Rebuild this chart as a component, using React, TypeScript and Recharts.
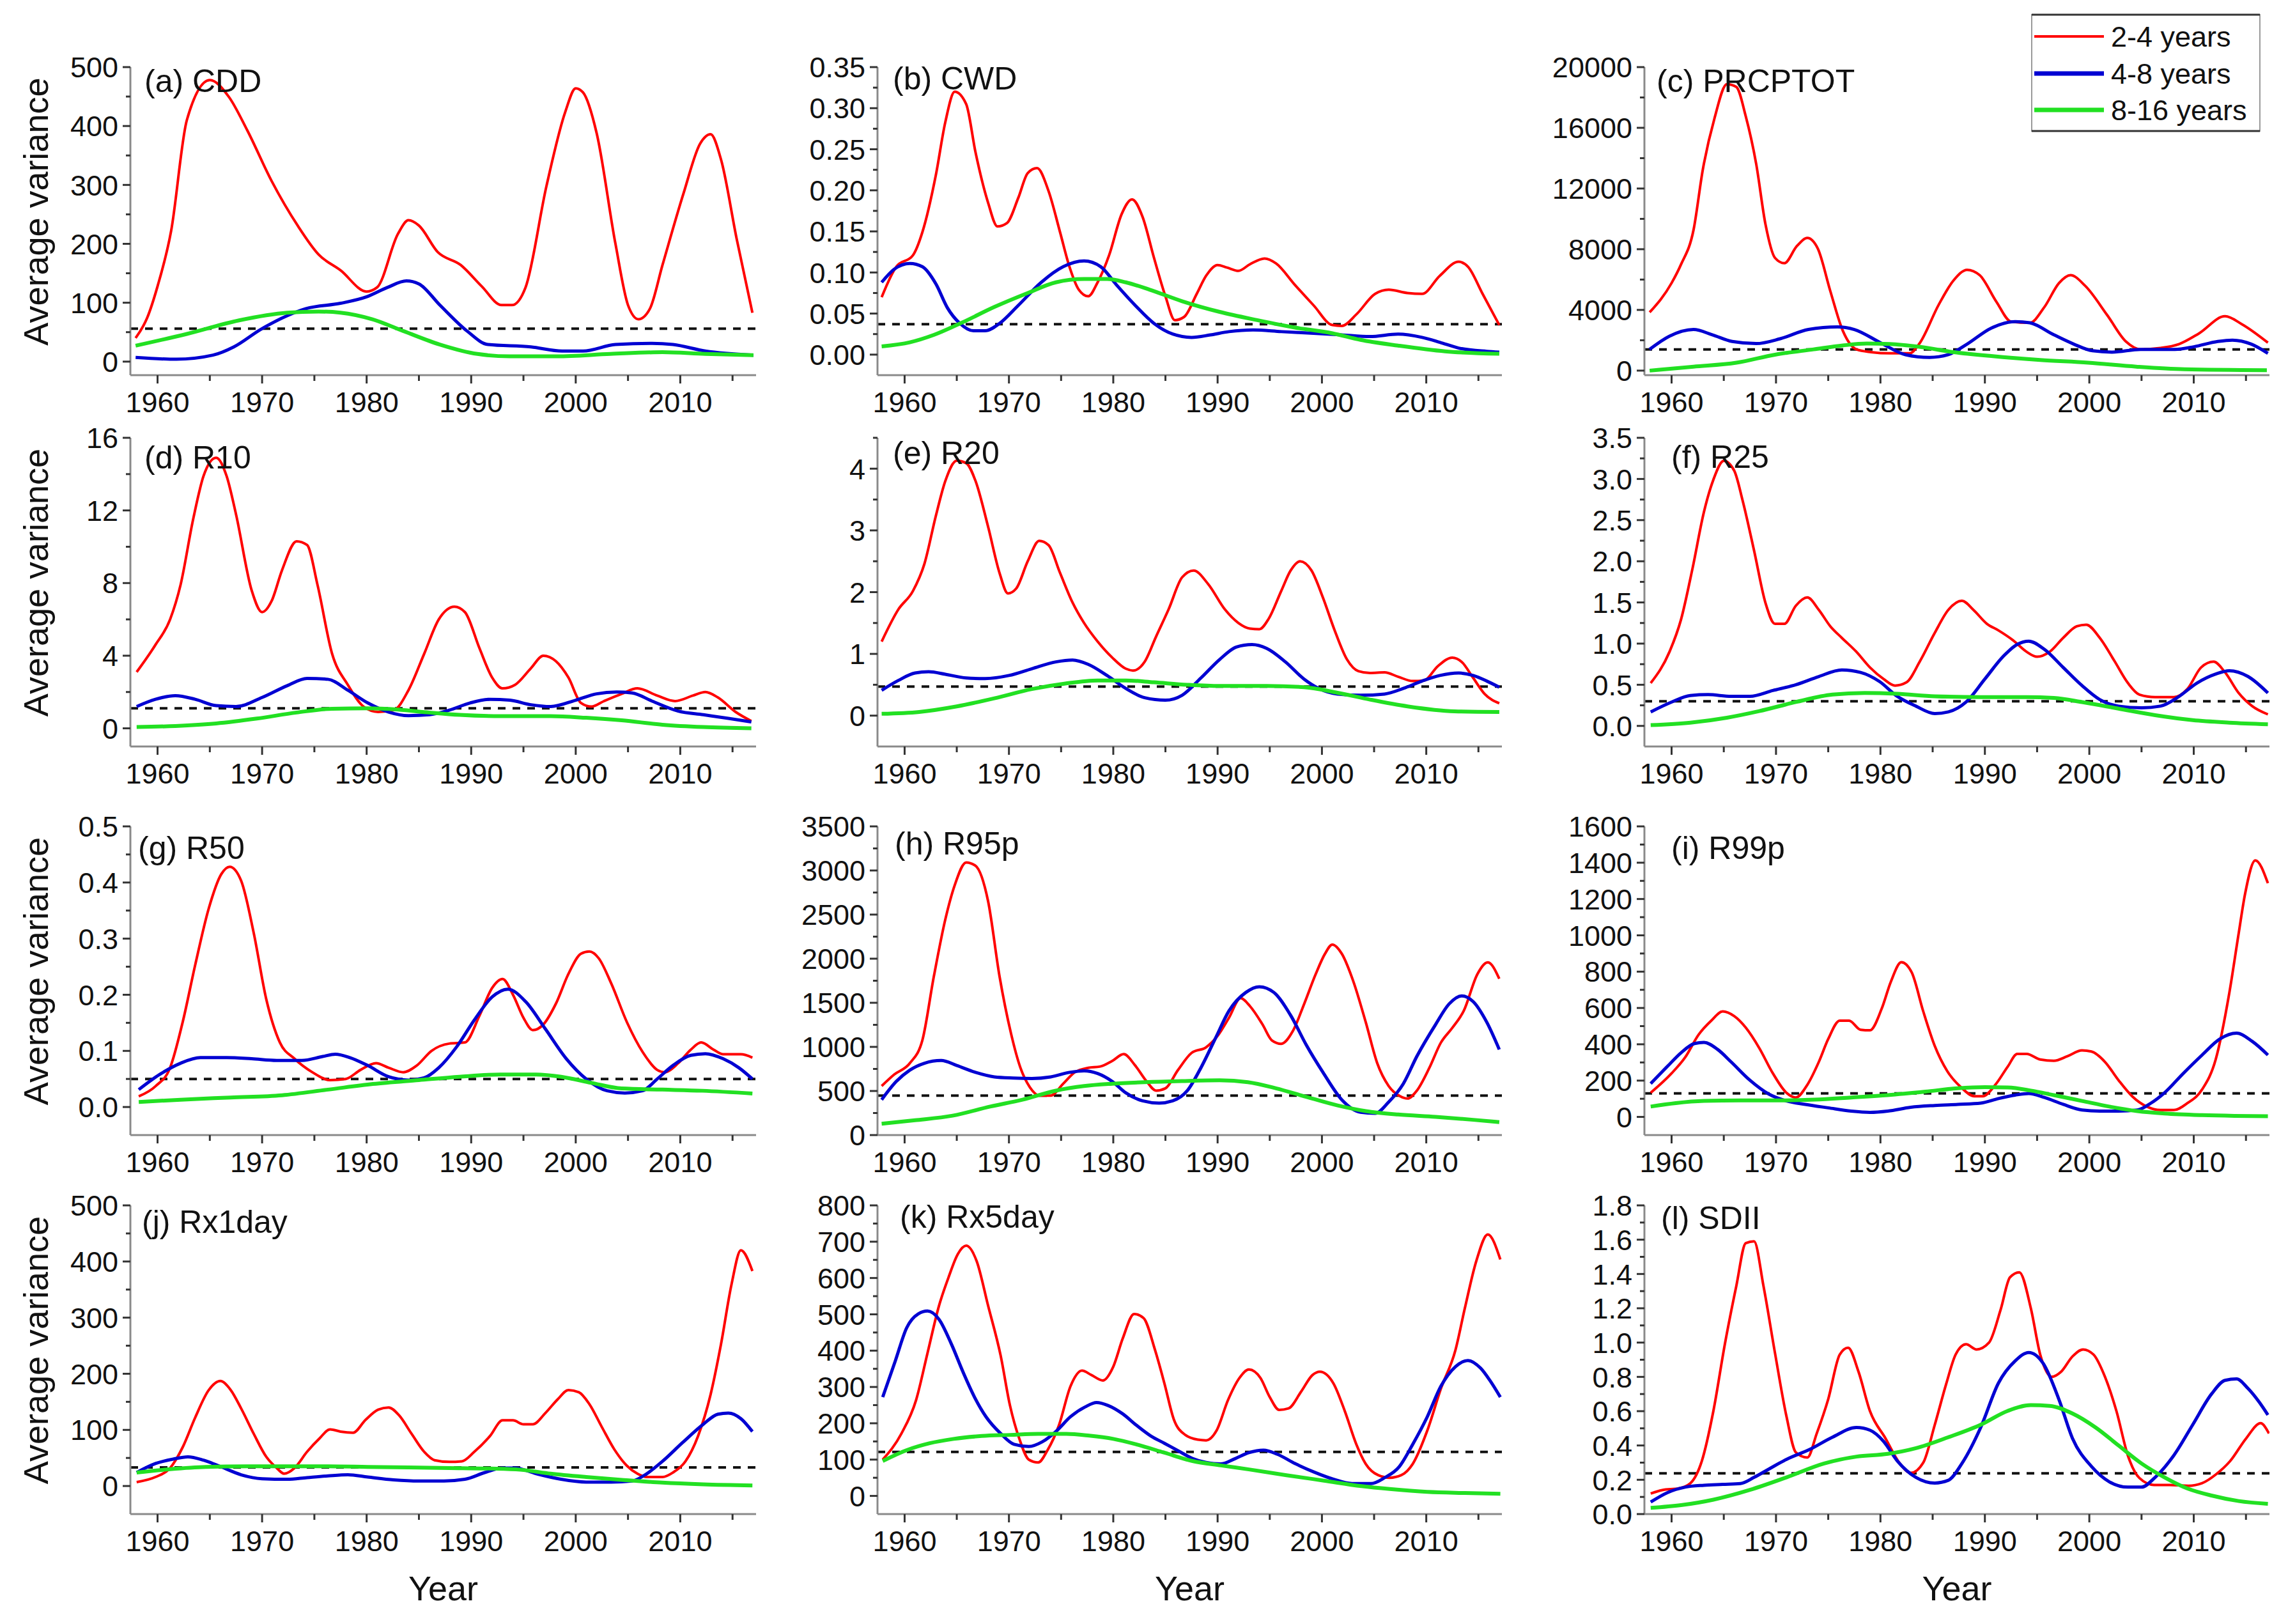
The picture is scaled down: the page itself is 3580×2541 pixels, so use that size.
import React from 'react';
import { LineChart, Line, XAxis, YAxis, ReferenceLine } from 'recharts';

type Pt = [number, number];

// (a) CDD
const cddRed: Pt[] = [[1957.9,40],[1959,74],[1960,128],[1961.3,222],[1962.8,410],[1965,478],[1966.8,450],[1968.6,392],[1970.9,307],[1973.4,231],[1975.4,182],[1977.5,155],[1980,119],[1981,126],[1983,217],[1984,240],[1985,231],[1986.8,186],[1989,164],[1991,128],[1992.9,96],[1993.9,96],[1995.2,126],[1997.2,298],[1999,424],[2000,464],[2000.7,457],[2002,388],[2003.8,200],[2005,96],[2006,72],[2007.1,90],[2008.3,164],[2010.3,285],[2011.9,370],[2012.9,386],[2013.9,343],[2015.4,208],[2016.9,83]];
const cddBlue: Pt[] = [[1957.9,7],[1961.8,4],[1965.3,11],[1967.3,25],[1969.9,55],[1972.4,78],[1974.2,90],[1977.5,99],[1980,110],[1982,126],[1983.8,137],[1985,132],[1987,96],[1989.6,52],[1991.6,29],[1995.7,25],[1998.7,18],[2000.7,18],[2003.8,29],[2007.3,31],[2009.3,29],[2012.4,18],[2017,11]];
const cddGreen: Pt[] = [[1957.9,27],[1962.8,47],[1967.8,70],[1972.4,83],[1975.4,85],[1977.5,83],[1980.5,72],[1983.5,52],[1987,29],[1990.6,13],[1993.7,9],[1998.2,9],[2003.3,13],[2008.3,16],[2012.4,13],[2017,11]];

// (b) CWD
const cwdRed: Pt[] = [[1957.8,0.07],[1959.2,0.107],[1960.8,0.121],[1961.7,0.149],[1963,0.219],[1963.9,0.283],[1964.8,0.32],[1965.9,0.305],[1966.8,0.246],[1968,0.185],[1968.9,0.156],[1969.8,0.16],[1970.9,0.191],[1971.8,0.221],[1972.7,0.227],[1973.8,0.199],[1974.9,0.149],[1975.8,0.107],[1976.7,0.079],[1977.6,0.071],[1978.5,0.088],[1979.6,0.121],[1980.8,0.171],[1981.8,0.189],[1982.8,0.168],[1983.9,0.118],[1985,0.071],[1985.9,0.042],[1986.8,0.046],[1988,0.074],[1988.9,0.096],[1990,0.109],[1990.9,0.106],[1992,0.102],[1993.1,0.11],[1994.5,0.117],[1995.6,0.111],[1997.4,0.085],[1999.2,0.06],[2001,0.036],[2001.9,0.035],[2003.3,0.049],[2005.1,0.074],[2006.4,0.079],[2008.2,0.075],[2009.6,0.074],[2011.3,0.096],[2013.1,0.113],[2014,0.107],[2015.4,0.074],[2017,0.036]];
const cwdBlue: Pt[] = [[1957.8,0.088],[1959,0.104],[1960.5,0.111],[1961.7,0.107],[1963,0.086],[1964.1,0.057],[1965.3,0.038],[1966.6,0.029],[1967.7,0.029],[1969.1,0.038],[1970.9,0.06],[1973.1,0.088],[1975.2,0.107],[1977.2,0.114],[1978.8,0.107],[1980.3,0.085],[1982.1,0.06],[1983.9,0.038],[1985.7,0.025],[1987.5,0.021],[1989.3,0.024],[1991.1,0.028],[1993.4,0.03],[1996.1,0.028],[1999.2,0.026],[2001.9,0.024],[2004.6,0.022],[2007.3,0.025],[2009.6,0.021],[2011.3,0.015],[2013.1,0.008],[2015.8,0.004],[2017,0.003]];
const cwdGreen: Pt[] = [[1957.8,0.01],[1960.5,0.015],[1962.8,0.024],[1965.5,0.039],[1968.6,0.058],[1971.8,0.075],[1974.5,0.088],[1977.2,0.092],[1979.4,0.092],[1981.2,0.088],[1983.5,0.079],[1986.6,0.065],[1990.2,0.052],[1993.8,0.042],[1997.4,0.033],[2001,0.026],[2003.7,0.018],[2007.3,0.011],[2011.8,0.004],[2017,0.001]];

// (c) PRCPTOT
const prcRed: Pt[] = [[1957.9,3840],[1960,5770],[1960.9,6990],[1962.1,9260],[1963,13280],[1964.1,16600],[1965.3,18870],[1966.2,18690],[1967.1,16770],[1968.1,13630],[1969,9610],[1969.9,7430],[1970.8,7080],[1972,8210],[1973,8740],[1974,8040],[1975.2,5240],[1976.4,2620],[1977.7,1400],[1979.1,1220],[1980.9,1140],[1982.8,1140],[1983.7,1750],[1985.6,4370],[1987,5940],[1988.3,6640],[1989.5,6290],[1991.1,4540],[1992.5,3230],[1994.3,3150],[1995.7,4190],[1997.1,5770],[1998.2,6290],[1999.6,5590],[2001.7,3670],[2003.5,1920],[2004.9,1400],[2006.8,1490],[2008.6,1750],[2010.5,2450],[2013,3580],[2014.6,3060],[2017.1,1840]];
const prcBlue: Pt[] = [[1957.9,1400],[1959.8,2270],[1962.1,2710],[1963.9,2360],[1965.8,1920],[1968.1,1780],[1970.4,2100],[1973.1,2710],[1975.9,2880],[1977.5,2710],[1980,1840],[1982.4,1050],[1984.7,870],[1986.5,1050],[1988.3,1750],[1990.6,2800],[1992.9,3230],[1994.3,3150],[1996.6,2360],[1998.5,1750],[2000.3,1310],[2002.2,1220],[2004.9,1400],[2008.2,1400],[2010,1570],[2012.3,1920],[2013.7,2010],[2015.5,1750],[2017.1,1140]];
const prcGreen: Pt[] = [[1957.9,0],[1962.1,260],[1966.2,520],[1969.9,1050],[1973.6,1400],[1976.4,1660],[1978.7,1780],[1980.9,1750],[1983.7,1570],[1987,1220],[1990.6,960],[1995.3,700],[1999.9,520],[2004.5,260],[2009.1,90],[2017,30]];

// (d) R10
const r10Red: Pt[] = [[1958,3.1],[1959.8,4.6],[1961.2,6],[1962.2,7.9],[1963.4,11.5],[1964.4,13.9],[1965.6,14.9],[1966.6,13.9],[1967.5,11.8],[1969,7.6],[1970,6.4],[1970.9,7],[1971.9,8.7],[1973.3,10.3],[1974.3,10.1],[1975.3,7.9],[1976.7,4.1],[1978.2,2.4],[1979.7,1.2],[1981.1,0.9],[1982.6,1],[1984,2.1],[1985.5,4.1],[1986.9,6],[1988.4,6.7],[1989.4,6.4],[1990.8,4.4],[1992,2.8],[1993,2.2],[1994.2,2.4],[1995.7,3.3],[1996.9,4],[1998.1,3.7],[1999.3,2.8],[2000.5,1.4],[2001.5,1.2],[2002.7,1.5],[2004.4,1.9],[2005.9,2.2],[2007.8,1.8],[2009.5,1.5],[2011.2,1.8],[2012.4,2],[2013.6,1.7],[2015.3,0.9],[2016.8,0.4]];
const r10Blue: Pt[] = [[1958,1.2],[1959.8,1.6],[1961.7,1.8],[1963.6,1.6],[1965.6,1.25],[1967.5,1.2],[1970,1.7],[1972.4,2.35],[1974.3,2.75],[1976.3,2.7],[1978.2,2.1],[1980.1,1.4],[1982.1,0.9],[1984,0.7],[1986,0.75],[1987.9,1],[1989.9,1.4],[1991.8,1.6],[1993.7,1.55],[1995.7,1.3],[1997.6,1.2],[2000,1.55],[2002,1.9],[2003.9,2],[2005.4,1.95],[2007.3,1.5],[2009.8,0.95],[2012.2,0.75],[2014.6,0.55],[2016.8,0.35]];
const r10Green: Pt[] = [[1958,0.07],[1961.7,0.13],[1965.6,0.27],[1969.5,0.54],[1973.3,0.87],[1976.7,1.08],[1980.1,1.1],[1983,1.03],[1986,0.87],[1988.9,0.74],[1992.8,0.67],[1997.6,0.67],[2001,0.58],[2004.4,0.44],[2008.3,0.2],[2012.2,0.07],[2016.8,0]];

// (e) R20
const r20Red: Pt[] = [[1957.8,1.2],[1959.4,1.72],[1960.8,2.02],[1961.9,2.46],[1963,3.24],[1963.9,3.8],[1965,4.13],[1965.9,4.09],[1966.8,3.8],[1968,3.06],[1969.1,2.31],[1969.9,1.98],[1970.7,2.06],[1971.8,2.5],[1972.9,2.83],[1973.8,2.76],[1974.9,2.31],[1976.1,1.83],[1977.2,1.5],[1978.5,1.2],[1979.9,0.94],[1981.2,0.76],[1981.9,0.73],[1983,0.87],[1984.1,1.28],[1985.3,1.72],[1986.6,2.24],[1987.7,2.35],[1989.1,2.13],[1990.7,1.72],[1992,1.5],[1993.1,1.41],[1994,1.4],[1994.9,1.57],[1996.1,2.02],[1997,2.35],[1997.9,2.5],[1999,2.35],[2000.1,1.91],[2001.2,1.39],[2002.4,0.91],[2003.5,0.72],[2004.6,0.69],[2006,0.7],[2007.3,0.63],[2008.7,0.56],[2009.8,0.57],[2011.1,0.8],[2012.5,0.94],[2013.4,0.87],[2014.5,0.61],[2015.6,0.35],[2017,0.2]];
const r20Blue: Pt[] = [[1957.8,0.41],[1959.4,0.57],[1961,0.69],[1962.3,0.71],[1963.9,0.67],[1965.9,0.61],[1967.7,0.6],[1970,0.65],[1972.2,0.76],[1974.5,0.87],[1976.1,0.9],[1977.6,0.83],[1979.4,0.65],[1981.2,0.44],[1983,0.29],[1985,0.25],[1986.6,0.33],[1988.4,0.61],[1990.2,0.91],[1991.8,1.11],[1993.3,1.15],[1994.7,1.09],[1996.5,0.87],[1998.3,0.59],[1999.7,0.44],[2001.5,0.35],[2003.7,0.33],[2006,0.35],[2007.8,0.44],[2009.6,0.56],[2011.3,0.65],[2013.1,0.69],[2014.5,0.65],[2015.8,0.56],[2017,0.46]];
const r20Green: Pt[] = [[1957.8,0.03],[1961.4,0.06],[1965,0.15],[1968.6,0.28],[1972.2,0.43],[1975.4,0.52],[1978.5,0.57],[1981.2,0.57],[1983.9,0.54],[1987.1,0.5],[1990.2,0.48],[1994.7,0.48],[1998.3,0.46],[2001.5,0.37],[2004.6,0.26],[2008.2,0.15],[2012.7,0.07],[2017,0.06]];

// (f) R25
const r25Red: Pt[] = [[1958,0.52],[1959.8,0.9],[1960.9,1.29],[1962,1.91],[1963.1,2.6],[1964,2.99],[1965,3.22],[1966,3.1],[1966.8,2.74],[1967.9,2.13],[1969,1.49],[1969.9,1.24],[1970.8,1.24],[1971.9,1.46],[1973,1.56],[1974.1,1.41],[1975.2,1.21],[1976.3,1.07],[1977.7,0.9],[1979,0.71],[1980.3,0.57],[1981.4,0.49],[1982.5,0.53],[1983.8,0.79],[1985.2,1.13],[1986.5,1.41],[1987.8,1.52],[1988.9,1.41],[1990.2,1.24],[1991.3,1.16],[1992.7,1.04],[1994,0.9],[1995,0.84],[1996.2,0.9],[1997.5,1.07],[1998.8,1.21],[1999.7,1.23],[2001,1.07],[2002.4,0.79],[2003.7,0.52],[2004.8,0.38],[2006.3,0.35],[2008.1,0.35],[2009.4,0.45],[2010.7,0.71],[2011.9,0.78],[2013,0.65],[2014.3,0.4],[2015.6,0.24],[2017.1,0.14]];
const r25Blue: Pt[] = [[1958,0.17],[1960,0.29],[1961.8,0.37],[1963.5,0.38],[1965.7,0.36],[1967.5,0.36],[1969.7,0.43],[1971.9,0.5],[1974.1,0.6],[1976.3,0.68],[1978.1,0.65],[1979.9,0.54],[1981.6,0.36],[1983.4,0.24],[1985.2,0.15],[1986.5,0.17],[1988.2,0.29],[1990,0.57],[1991.8,0.85],[1993.1,0.99],[1994.2,1.03],[1995.7,0.93],[1997.5,0.71],[1999.3,0.49],[2001,0.32],[2002.8,0.24],[2005,0.22],[2006.8,0.24],[2008.5,0.35],[2010.3,0.52],[2012.1,0.63],[2013.4,0.67],[2015.2,0.6],[2017.1,0.4]];
const r25Green: Pt[] = [[1958,0.01],[1961.8,0.04],[1965.3,0.1],[1968.4,0.18],[1971.9,0.29],[1975.4,0.38],[1978.5,0.4],[1981.6,0.39],[1985.2,0.36],[1989.6,0.35],[1994,0.35],[1996.6,0.34],[1999.3,0.29],[2002.8,0.21],[2006.3,0.13],[2009.9,0.07],[2013.4,0.04],[2017.1,0.02]];

// (g) R50
const r50Red: Pt[] = [[1958.2,0.019],[1959.8,0.037],[1961.2,0.07],[1962.4,0.151],[1963.6,0.253],[1964.9,0.354],[1966.1,0.415],[1966.9,0.428],[1968,0.403],[1969.2,0.31],[1970.4,0.192],[1971.7,0.115],[1973.1,0.086],[1974.8,0.062],[1976.5,0.048],[1978,0.05],[1979.4,0.066],[1980.9,0.078],[1982.1,0.07],[1983.5,0.062],[1984.8,0.074],[1986.2,0.1],[1987.9,0.113],[1989.4,0.115],[1990.8,0.163],[1992,0.212],[1993,0.228],[1994,0.2],[1995,0.159],[1995.9,0.137],[1996.9,0.147],[1998.1,0.184],[1999.3,0.237],[2000.5,0.273],[2001.3,0.277],[2002.2,0.265],[2003.4,0.22],[2004.9,0.151],[2006.4,0.098],[2007.8,0.066],[2008.5,0.062],[2009.8,0.078],[2011,0.102],[2012,0.115],[2013.2,0.102],[2014.1,0.094],[2015.8,0.094],[2016.9,0.088]];
const r50Blue: Pt[] = [[1958.2,0.031],[1960.2,0.058],[1962.2,0.078],[1964.1,0.088],[1966.6,0.088],[1969,0.086],[1971.4,0.083],[1973.8,0.083],[1975.8,0.09],[1977,0.094],[1978.4,0.088],[1980.1,0.074],[1982.1,0.054],[1984,0.048],[1985.5,0.052],[1986.9,0.07],[1988.6,0.107],[1990.3,0.155],[1992,0.196],[1993.5,0.21],[1995.2,0.188],[1997.1,0.139],[1999.1,0.086],[2001,0.05],[2003,0.029],[2004.7,0.025],[2006.4,0.029],[2007.8,0.05],[2009.3,0.074],[2011,0.092],[2012.4,0.095],[2014.1,0.086],[2015.6,0.07],[2016.9,0.05]];
const r50Green: Pt[] = [[1958.2,0.009],[1962.2,0.013],[1967,0.017],[1971.9,0.021],[1976.3,0.031],[1980.6,0.041],[1985,0.048],[1988.9,0.054],[1992.8,0.058],[1996.2,0.058],[1998.6,0.054],[2001.5,0.043],[2004.4,0.033],[2008.3,0.031],[2012.1,0.029],[2016.9,0.024]];

// (h) R95p
const r95Red: Pt[] = [[1957.8,556],[1959,686],[1960.5,815],[1961.7,1074],[1962.8,1798],[1963.9,2445],[1964.8,2833],[1965.9,3091],[1966.8,3053],[1968,2652],[1969.1,1798],[1970.2,1151],[1971.1,763],[1972,543],[1972.9,448],[1974,448],[1975.2,582],[1976.3,711],[1977.6,763],[1978.7,776],[1979.9,841],[1981,918],[1982.1,789],[1983.2,608],[1984.1,504],[1985,530],[1986.2,737],[1987.5,931],[1988.9,996],[1990,1125],[1991.1,1332],[1992.2,1552],[1993.1,1462],[1994.3,1255],[1995.2,1074],[1996.1,1035],[1997.2,1177],[1998.3,1488],[1999.4,1824],[2000.3,2057],[2001,2160],[2001.9,2057],[2003,1746],[2004.2,1280],[2005.3,815],[2006.4,556],[2007.5,440],[2008.2,414],[2009.1,504],[2010.3,763],[2011.4,1048],[2012.5,1216],[2013.6,1410],[2014.9,1824],[2015.9,1958],[2017,1772]];
const r95Blue: Pt[] = [[1957.8,401],[1959.2,608],[1960.5,737],[1961.9,815],[1963.5,846],[1965,789],[1966.8,711],[1968.6,660],[1970.4,647],[1972.2,642],[1974,660],[1975.8,711],[1977.2,729],[1978.5,698],[1979.9,608],[1981.2,479],[1982.8,388],[1984.4,362],[1985.7,388],[1987.1,504],[1988.4,763],[1989.8,1099],[1991.1,1410],[1992.7,1617],[1994,1682],[1995.4,1617],[1997,1358],[1998.5,1022],[2000.1,711],[2001.9,401],[2003.7,259],[2005.1,246],[2006.4,375],[2007.8,582],[2009.1,893],[2010.9,1255],[2012.2,1488],[2013.4,1578],[2014.5,1513],[2015.8,1280],[2017,970]];
const r95Green: Pt[] = [[1957.8,129],[1961,168],[1964.6,220],[1968.2,323],[1971.3,401],[1974.5,504],[1977.2,556],[1979.9,582],[1983,600],[1986.6,613],[1990.2,621],[1992.9,600],[1995.6,530],[1998.3,440],[2001.5,336],[2004.2,272],[2007.3,233],[2010.9,207],[2014.5,173],[2017,147]];

// (i) R99p
const r99Red: Pt[] = [[1958,133],[1960,240],[1961.3,328],[1962.6,454],[1963.8,530],[1964.9,581],[1966,555],[1967.1,492],[1968.4,379],[1969.7,240],[1971,133],[1971.9,107],[1973,177],[1974.1,303],[1975,429],[1976.1,530],[1977,530],[1978.1,480],[1979,477],[1980.1,593],[1981,745],[1982,852],[1983,795],[1984.1,581],[1985.2,391],[1986.4,252],[1987.7,164],[1989,114],[1989.8,114],[1991,177],[1992.2,278],[1993.1,347],[1994,347],[1995.3,316],[1996.6,309],[1997.9,334],[1999.3,366],[2000.2,360],[2001.5,303],[2002.8,202],[2004.1,114],[2005.5,57],[2006.8,38],[2008.1,38],[2009.4,76],[2010.8,151],[2012.1,316],[2013.4,681],[2014.3,1010],[2014.9,1224],[2015.9,1413],[2017.1,1287]];
const r99Blue: Pt[] = [[1958,183],[1959.6,278],[1960.9,353],[1962.2,404],[1963.1,410],[1964.4,372],[1965.7,303],[1967.5,202],[1969.3,126],[1971,88],[1972.8,69],[1975,50],[1977.2,32],[1979,25],[1980.7,32],[1982.9,53],[1985.2,63],[1987.4,69],[1989.6,76],[1991.3,101],[1992.9,120],[1994.2,129],[1995.7,107],[1997.5,69],[1999.3,38],[2001,32],[2002.8,32],[2004.6,38],[2005.9,76],[2007.2,133],[2009,240],[2010.8,341],[2012.5,429],[2014.1,461],[2015.6,416],[2017.1,341]];
const r99Green: Pt[] = [[1958,57],[1960.4,76],[1963.1,88],[1966.6,91],[1970.2,91],[1973.7,95],[1977.2,107],[1980.7,120],[1984.3,139],[1987.4,158],[1990,164],[1992.2,162],[1994.4,145],[1996.6,120],[1999.3,88],[2001.9,57],[2004.6,32],[2007.2,19],[2010.8,10],[2013.9,6],[2017.1,4]];

// (j) Rx1day
const rx1Red: Pt[] = [[1958,7],[1959.8,16],[1961.2,32],[1962.4,69],[1963.6,122],[1964.9,171],[1966,187],[1967,171],[1968,138],[1969.2,93],[1970.4,52],[1971.4,32],[1972.1,22],[1973.1,32],[1974.3,61],[1975.5,85],[1976.5,101],[1977.5,97],[1978.7,95],[1979.9,118],[1981.1,136],[1982.1,140],[1983.1,126],[1984.3,93],[1985.5,61],[1986.5,46],[1987.9,43],[1989.1,44],[1990.3,61],[1991.8,89],[1993,117],[1994,117],[1995,110],[1995.9,110],[1997.1,130],[1998.3,155],[1999.3,171],[2000.3,167],[2001.3,146],[2002.5,105],[2003.7,65],[2004.9,36],[2005.9,22],[2006.8,16],[2008.3,16],[2009.3,24],[2010.5,44],[2011.7,89],[2012.9,163],[2013.9,253],[2014.9,359],[2015.8,420],[2016.9,383]];
const rx1Blue: Pt[] = [[1958,24],[1959.8,40],[1961.5,48],[1962.9,52],[1964.4,46],[1966.1,34],[1968,20],[1970,13],[1972.4,12],[1974.3,15],[1976.3,18],[1978.2,20],[1980.1,16],[1982.6,11],[1985,9],[1987.4,9],[1989.4,12],[1991.3,24],[1993,32],[1994.2,32],[1996.2,22],[1998.6,12],[2001,7],[2003.4,7],[2005.4,9],[2006.8,22],[2008.3,44],[2010.2,77],[2012.2,110],[2013.6,128],[2014.6,130],[2015.8,120],[2016.9,97]];
const rx1Green: Pt[] = [[1958,24],[1961.2,30],[1964.6,34],[1968.5,35],[1972.4,35],[1976.3,35],[1980.1,34],[1984,33],[1987.9,32],[1991.8,31],[1994.7,29],[1997.6,22],[2001,16],[2004.4,11],[2008.3,6],[2012.2,3],[2016.9,1]];

// (k) Rx5day
const rx5Red: Pt[] = [[1957.9,100],[1959.7,172],[1961.1,264],[1962.2,394],[1963.3,524],[1964.2,601],[1965.1,666],[1965.9,689],[1966.9,647],[1968,524],[1969.2,387],[1970.1,249],[1971,157],[1971.9,100],[1972.8,92],[1973.7,126],[1974.8,195],[1975.9,302],[1977,345],[1977.9,333],[1979,318],[1980,356],[1980.9,433],[1982,501],[1982.9,490],[1984,402],[1984.9,310],[1985.8,211],[1986.9,168],[1988.1,155],[1988.9,153],[1989.9,180],[1991,264],[1992.1,325],[1993,348],[1994.1,325],[1995,272],[1995.9,237],[1996.8,241],[1998,287],[1999.1,333],[1999.8,342],[2001.1,310],[2002.2,233],[2003.3,142],[2004.2,88],[2005.4,57],[2006.5,50],[2007.6,57],[2008.7,88],[2010.1,180],[2011.4,295],[2012.8,402],[2013.7,517],[2014.8,647],[2015.9,720],[2017.1,651]];
const rx5Blue: Pt[] = [[1957.9,272],[1959.1,371],[1960.2,463],[1961.3,501],[1962.2,509],[1963.3,486],[1964.5,417],[1965.6,341],[1966.7,272],[1967.8,218],[1969.2,172],[1970.5,142],[1971.9,136],[1973.2,149],[1974.6,180],[1975.9,218],[1977.3,245],[1978.4,257],[1979.5,249],[1980.9,226],[1982.2,195],[1983.6,165],[1984.9,145],[1986.3,123],[1987.6,103],[1988.9,92],[1990.3,88],[1991.7,103],[1993,119],[1994.4,126],[1995.7,115],[1997.5,88],[1999.3,65],[2001.1,46],[2002.9,34],[2004.7,34],[2006,50],[2007.4,80],[2008.7,142],[2010.1,218],[2011.4,302],[2012.8,356],[2014,373],[2015.2,352],[2016.1,318],[2017.1,272]];
const rx5Green: Pt[] = [[1957.9,96],[1960.2,126],[1962.4,145],[1964.7,157],[1967.4,165],[1970.1,168],[1972.8,171],[1975.5,171],[1977.7,166],[1980,157],[1982.2,142],[1984.9,119],[1987.6,96],[1990.3,84],[1993,73],[1996.6,57],[2000.2,42],[2003.8,27],[2006.5,19],[2010.1,11],[2013.7,8],[2017.1,6]];

// (l) SDII
const sdiiRed: Pt[] = [[1958,0.12],[1959.1,0.14],[1960.7,0.15],[1961.8,0.18],[1962.9,0.31],[1964,0.6],[1965.1,0.99],[1966.2,1.33],[1967.1,1.58],[1967.9,1.59],[1968.8,1.33],[1969.9,0.94],[1971,0.57],[1971.9,0.36],[1973,0.33],[1973.9,0.47],[1975,0.67],[1976.1,0.93],[1976.9,0.97],[1977.9,0.83],[1979,0.6],[1980.5,0.44],[1981.8,0.3],[1982.9,0.24],[1984.1,0.3],[1985.2,0.52],[1986.3,0.76],[1987.2,0.93],[1988.2,0.99],[1989.2,0.96],[1990.4,1],[1991.5,1.19],[1992.4,1.38],[1993.3,1.41],[1994.4,1.2],[1995.3,0.93],[1996.4,0.8],[1997.3,0.83],[1998.4,0.92],[1999.4,0.96],[2000.4,0.93],[2001.5,0.8],[2002.6,0.6],[2003.7,0.34],[2004.8,0.21],[2006.2,0.17],[2007.7,0.17],[2009.5,0.165],[2010.8,0.18],[2012.1,0.23],[2013.5,0.31],[2015,0.44],[2016.4,0.53],[2017.2,0.47]];
const sdiiBlue: Pt[] = [[1958,0.07],[1959.6,0.125],[1961.3,0.157],[1963.1,0.168],[1964.9,0.173],[1966.6,0.178],[1967.9,0.214],[1969.3,0.262],[1971,0.319],[1973.2,0.376],[1975.4,0.448],[1977.7,0.505],[1979,0.489],[1980.3,0.424],[1981.6,0.311],[1983.4,0.214],[1985.2,0.181],[1986.5,0.197],[1987.8,0.295],[1989.6,0.505],[1991.3,0.764],[1992.9,0.893],[1994.2,0.942],[1995.6,0.877],[1997.1,0.667],[1998.4,0.44],[2000.2,0.278],[2001.9,0.189],[2003.7,0.157],[2005,0.157],[2006.3,0.214],[2008.1,0.343],[2009.9,0.521],[2011.7,0.7],[2013,0.78],[2014.1,0.788],[2015.2,0.732],[2016.3,0.65],[2017.1,0.578]];
const sdiiGreen: Pt[] = [[1958,0.036],[1960.9,0.052],[1964,0.084],[1967.5,0.141],[1971,0.214],[1974.6,0.295],[1977.7,0.335],[1980.7,0.351],[1983.4,0.384],[1986.5,0.448],[1989.6,0.521],[1992.2,0.602],[1994.4,0.635],[1996.2,0.631],[1998.4,0.586],[2000.6,0.505],[2002.8,0.4],[2005,0.295],[2007.2,0.214],[2009.4,0.149],[2011.7,0.108],[2014.3,0.076],[2017.1,0.06]];

const panelTitles = ['(a) CDD', '(b) CWD', '(c) PRCPTOT', '(d) R10', '(e) R20', '(f) R25', '(g) R50', '(h) R95p', '(i) R99p', '(j) Rx1day', '(k) Rx5day', '(l) SDII'];
const redSeries = [cddRed, cwdRed, prcRed, r10Red, r20Red, r25Red, r50Red, r95Red, r99Red, rx1Red, rx5Red, sdiiRed];
const blueSeries = [cddBlue, cwdBlue, prcBlue, r10Blue, r20Blue, r25Blue, r50Blue, r95Blue, r99Blue, rx1Blue, rx5Blue, sdiiBlue];
const greenSeries = [cddGreen, cwdGreen, prcGreen, r10Green, r20Green, r25Green, r50Green, r95Green, r99Green, rx1Green, rx5Green, sdiiGreen];
const thresholds = [56, 0.037, 1400, 1.1, 0.47, 0.3, 0.05, 448, 130, 33, 121, 0.238];

// y axis settings per panel
const yMin = [-23, -0.025, -300, -1, -0.5, -0.25, -0.05, 0, -100, -50, -50, 0];
const yMax = [500, 0.35, 20000, 16, 4.5, 3.5, 0.5, 3500, 1600, 500, 800, 1.8];
const yStep = [100, 0.05, 4000, 4, 1, 0.5, 0.1, 500, 200, 100, 100, 0.2];
const yDecimals = [0, 2, 0, 0, 0, 1, 1, 0, 0, 0, 0, 1];

const yearTicks = [1960, 1965, 1970, 1975, 1980, 1985, 1990, 1995, 2000, 2005, 2010, 2015];
const legendLabels = ['2-4 years', '4-8 years', '8-16 years'];

const COLORS = ['#ff0000', '#0000d2', '#22e022'];
const WIDTHS = [4, 5, 6];
const FONT = "'Liberation Sans', Arial, Helvetica, sans-serif";

const COLS = [
  { left: 204, right: 1183 },
  { left: 1373, right: 2350 },
  { left: 2573, right: 3551 },
];
const ROWS = [
  { top: 105, bottom: 587 },
  { top: 685, bottom: 1168 },
  { top: 1293, bottom: 1776 },
  { top: 1886, bottom: 2369 },
];
// title placement inside each panel: [dx from y axis, baseline from plot top]
const titlePos = [[22, 39], [24, 35], [19, 39], [22, 48], [24, 41], [42, 47], [12, 51], [27, 44], [42, 51], [18, 43], [35, 35], [26, 37]];

const AXW = 200;
const TOPM = 40;
const RIGHTM = 14;
const XH = 90;

const toRows = (pts: Pt[]) => pts.map(([year, v]) => ({ year, v }));

const yTicksFor = (i: number) => {
  const minor = yStep[i] / 2;
  const out: number[] = [];
  for (let k = 0; k * minor <= yMax[i] + 1e-9; k++) out.push(Math.round(k * minor * 1e6) / 1e6);
  return out;
};

const YTick = (props: any) => {
  const { x, y, payload, step, dec } = props;
  const v = payload.value as number;
  const major = Math.abs(v / step - Math.round(v / step)) < 1e-6;
  return (
    <g>
      <line x1={x - (major ? 12 : 7)} x2={x} y1={y} y2={y} stroke="#333" strokeWidth={3} />
      {major && (
        <text x={x - 19} y={y} dy="0.36em" textAnchor="end" fontSize={45} fill="#111" fontFamily={FONT}>
          {v.toFixed(dec)}
        </text>
      )}
    </g>
  );
};

const XTick = (props: any) => {
  const { x, y, payload } = props;
  const v = payload.value as number;
  const major = v % 10 === 0;
  return (
    <g>
      <line x1={x} x2={x} y1={y} y2={y + (major ? 13 : 9)} stroke="#333" strokeWidth={3} />
      {major && (
        <text x={x} y={y + 58} textAnchor="middle" fontSize={45} fill="#111" fontFamily={FONT}>
          {v}
        </text>
      )}
    </g>
  );
};

const Panel = ({ i }: { i: number }) => {
  const col = COLS[i % 3];
  const row = ROWS[Math.floor(i / 3)];
  const plotW = col.right - col.left;
  const plotH = row.bottom - row.top;
  const series = [redSeries[i], blueSeries[i], greenSeries[i]];
  return (
    <div style={{ position: 'absolute', left: col.left - AXW, top: row.top - TOPM }}>
      <LineChart
        width={AXW + plotW + RIGHTM}
        height={TOPM + plotH + XH}
        margin={{ top: TOPM, right: RIGHTM, bottom: 0, left: 0 }}
      >
        <XAxis
          type="number"
          dataKey="year"
          domain={[1957.4, 2017.25]}
          ticks={yearTicks}
          interval={0}
          allowDataOverflow
          height={XH}
          tickLine={false}
          tickSize={0}
          tickMargin={0}
          axisLine={{ stroke: '#8a8a8a', strokeWidth: 3 }}
          tick={(p: any) => <XTick {...p} />}
        />
        <YAxis
          type="number"
          domain={[yMin[i], yMax[i]]}
          ticks={yTicksFor(i)}
          interval={0}
          allowDataOverflow
          width={AXW}
          tickLine={false}
          tickSize={0}
          tickMargin={0}
          axisLine={{ stroke: '#8a8a8a', strokeWidth: 3 }}
          tick={(p: any) => <YTick {...p} step={yStep[i]} dec={yDecimals[i]} />}
        />
        <ReferenceLine y={thresholds[i]} stroke="#111" strokeWidth={4} strokeDasharray="12 11" />
        {series.map((s, k) => (
          <Line
            key={k}
            data={toRows(s)}
            dataKey="v"
            type="monotone"
            stroke={COLORS[k]}
            strokeWidth={WIDTHS[k]}
            dot={false}
            activeDot={false}
            isAnimationActive={false}
          />
        ))}
      </LineChart>
    </div>
  );
};

const Overlay = () => {
  const legX = 3179;
  const legY = 23;
  const legRows = [57, 115, 172];
  return (
    <svg width={3580} height={2541} style={{ position: 'absolute', left: 0, top: 0, pointerEvents: 'none' }}>
      {panelTitles.map((t, i) => {
        const col = COLS[i % 3];
        const row = ROWS[Math.floor(i / 3)];
        return (
          <text key={t} x={col.left + titlePos[i][0]} y={row.top + titlePos[i][1]} fontSize={50} fill="#111" fontFamily={FONT}>
            {t}
          </text>
        );
      })}
      {ROWS.map((r, k) => (
        <text
          key={k}
          x={56}
          y={(r.top + r.bottom) / 2 - 15}
          transform={`rotate(-90 56 ${(r.top + r.bottom) / 2 - 15})`}
          textAnchor="middle"
          dy="0.35em"
          fontSize={54}
          fill="#111"
          fontFamily={FONT}
        >
          Average variance
        </text>
      ))}
      {COLS.map((c, k) => (
        <text key={k} x={(c.left + c.right) / 2} y={2504} textAnchor="middle" fontSize={54} fill="#111" fontFamily={FONT}>
          Year
        </text>
      ))}
      <rect x={legX} y={legY} width={357} height={182} fill="#fff" stroke="#9a9a9a" strokeWidth={2} />
      <line x1={legX} x2={legX + 357} y1={legY} y2={legY} stroke="#333" strokeWidth={3} />
      <line x1={legX} x2={legX + 357} y1={legY + 182} y2={legY + 182} stroke="#333" strokeWidth={3} />
      {legendLabels.map((l, k) => (
        <g key={l}>
          <line x1={legX + 4} x2={legX + 113} y1={legRows[k]} y2={legRows[k]} stroke={COLORS[k]} strokeWidth={k === 0 ? 4 : 7} />
          <text x={legX + 124} y={legRows[k]} dy="0.36em" fontSize={45} fill="#111" fontFamily={FONT}>
            {l}
          </text>
        </g>
      ))}
    </svg>
  );
};

export default function App() {
  return (
    <div style={{ position: 'absolute', left: 0, top: 0, width: 3580, height: 2541, background: '#fff', overflow: 'hidden' }}>
      {panelTitles.map((_, i) => (
        <Panel key={i} i={i} />
      ))}
      <Overlay />
    </div>
  );
}
